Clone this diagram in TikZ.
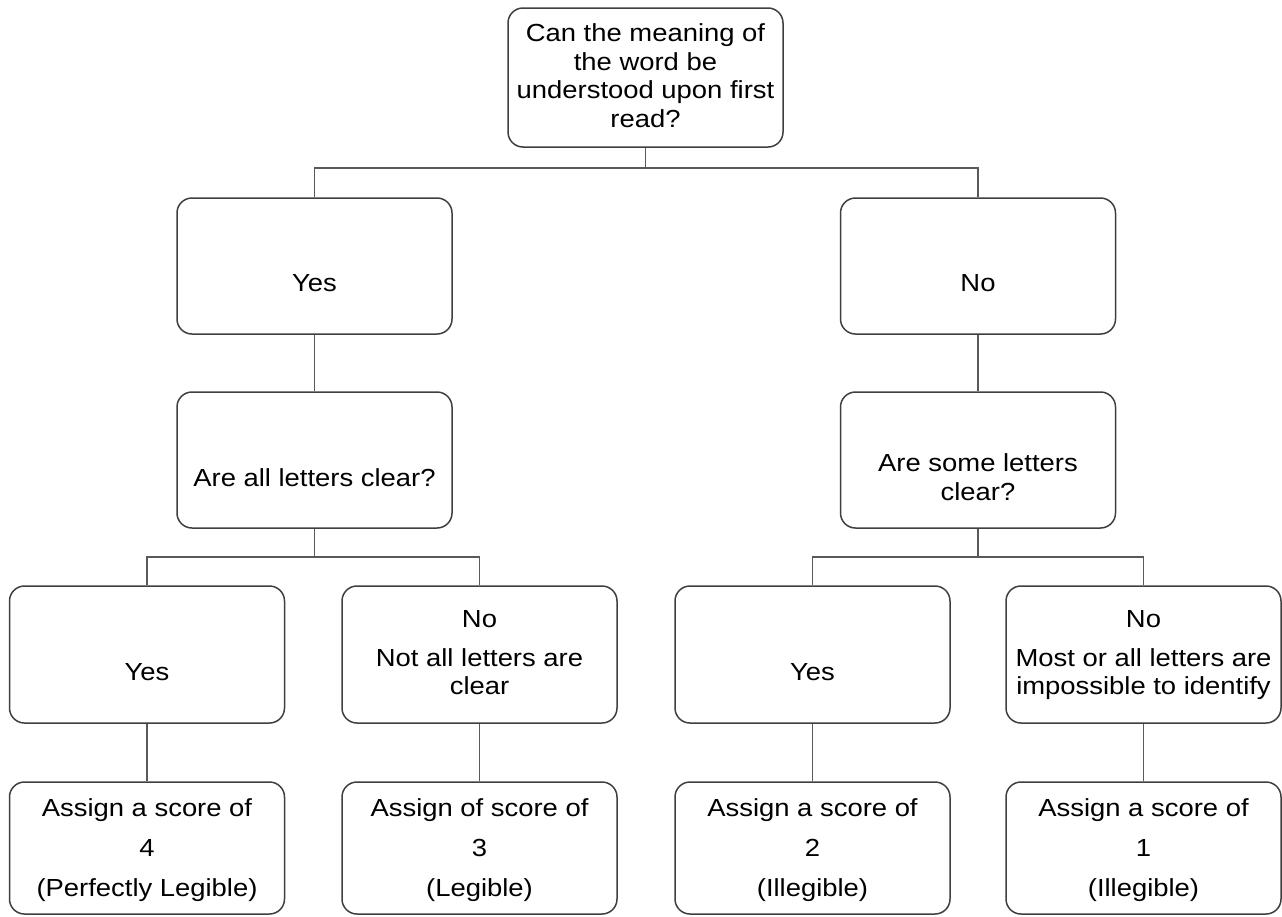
\documentclass[tikz,border=0pt]{standalone}
\usepackage{fontspec}
\setmainfont{Liberation Sans}[FakeStretch=1.11]
\definecolor{boxc}{HTML}{3F3F3F}
\definecolor{linec}{HTML}{595959}
\begin{document}
\begin{tikzpicture}[x=1pt,y=-1pt,
  box/.style={draw=boxc,line width=1.5pt,rounded corners=15pt,minimum width=275pt,minimum height=136pt,inner sep=0pt,fill=white},
  txt/.style={anchor=north,inner sep=0pt,align=center,font=\fontsize{24.7pt}{28.4pt}\selectfont,text=black},
  score/.style={txt,font=\fontsize{24.7pt}{40pt}\selectfont},
  conn/.style={draw=linec,line width=1.4pt}]
\useasboundingbox[fill=white] (0,0) rectangle (1282,916);
% boxes
\node[box,minimum height=139pt] (q0) at (645.5,77.5) {};
\node[box] (yes1) at (314.5,266) {};
\node[box] (no1) at (978,266) {};
\node[box] (q1) at (314.5,460) {};
\node[box] (q2) at (978,460) {};
\node[box,minimum height=137pt] (a1) at (147,654.5) {};
\node[box,minimum height=137pt] (a2) at (479.5,654.5) {};
\node[box,minimum height=137pt] (a3) at (812.5,654.5) {};
\node[box,minimum height=137pt] (a4) at (1143.5,654.5) {};
\node[box,minimum height=132pt] (r1) at (147,848) {};
\node[box,minimum height=132pt] (r2) at (479.5,848) {};
\node[box,minimum height=132pt] (r3) at (812.5,848) {};
\node[box,minimum height=132pt] (r4) at (1143.5,848) {};
% texts
\node[txt] (t0) at (645.5,23.8) {Can the meaning of\\the word be\\understood upon first\\read?};
\node[txt] (tyes1) at (314.5,274) {Yes};
\node[txt] (tno1) at (978,274) {No};
\node[txt] (tq1) at (314.5,468.8) {Are all letters clear?};
\node[txt] (tq2) at (978,453.8) {Are some letters\\clear?};
\node[txt] (ta1) at (147,663.5) {Yes};
\node[txt] (ta2) at (479.5,610.3) {No\\[10.3pt]Not all letters are\\clear};
\node[txt] (ta3) at (812.5,663.5) {Yes};
\node[txt] (ta4) at (1143.5,610.3) {No\\[10.3pt]Most or all letters are\\impossible to identify};
\node[score] (tr1) at (147,798.8) {Assign a score of\\4\\(Perfectly Legible)};
\node[score] (tr2) at (479.5,798.8) {Assign of score of\\3\\(Legible)};
\node[score] (tr3) at (812.5,798.8) {Assign a score of\\2\\(Illegible)};
\node[score] (tr4) at (1143.5,798.8) {Assign a score of\\1\\(Illegible)};
% connectors
\coordinate (j1) at (645.5,168);
\coordinate (j2) at (314.5,557);
\coordinate (j3) at (978,557);
\draw[conn] (q0.south) -- (j1) -| (yes1.north);
\draw[conn] (j1) -| (no1.north);
\draw[conn] (yes1.south) -- (q1.north);
\draw[conn] (no1.south) -- (q2.north);
\draw[conn] (q1.south) -- (j2) -| (a1.north);
\draw[conn] (j2) -| (a2.north);
\draw[conn] (q2.south) -- (j3) -| (a3.north);
\draw[conn] (j3) -| (a4.north);
\draw[conn] (a1.south) -- (r1.north);
\draw[conn] (a2.south) -- (r2.north);
\draw[conn] (a3.south) -- (r3.north);
\draw[conn] (a4.south) -- (r4.north);
\end{tikzpicture}
\end{document}
